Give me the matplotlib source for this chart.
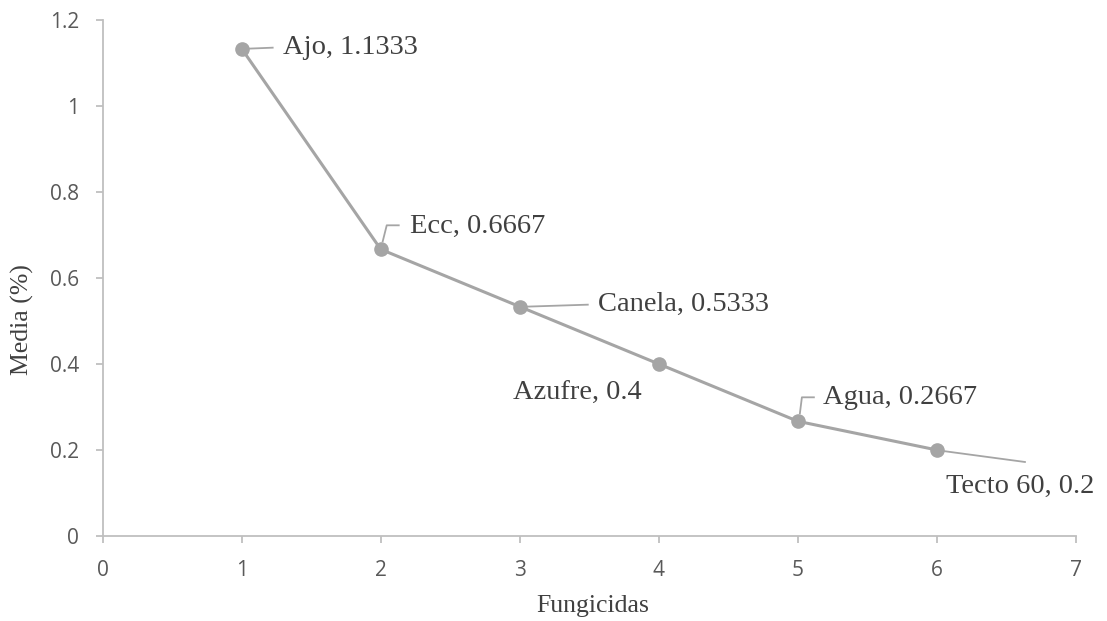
import matplotlib
matplotlib.use("Agg")
import matplotlib.pyplot as plt
from matplotlib.lines import Line2D
from matplotlib.transforms import IdentityTransform

# Data
fungicidas = [1, 2, 3, 4, 5, 6]
nombres = ["Ajo", "Ecc", "Canela", "Azufre", "Agua", "Tecto 60"]
medias = [1.1333, 0.6667, 0.5333, 0.4, 0.2667, 0.2]
x_ticks = [0, 1, 2, 3, 4, 5, 6, 7]
y_ticks = [0, 0.2, 0.4, 0.6, 0.8, 1.0, 1.2]
y_tick_labels = ["0", "0.2", "0.4", "0.6", "0.8", "1", "1.2"]

# Label placement in pixels relative to each point: text offset and leader path
label_offsets = [(41, 1), (29, 23), (78, 2), (-146, -29), (25, 24), (9, -36)]
leader_paths = [
    [(6, 0), (31, 1)],
    [(2, 8), (6, 24), (18, 24)],
    [(6, 0), (68, 2)],
    None,
    [(2, 8), (4, 24), (16, 24)],
    [(6, -1), (88, -12)],
]

SERIF = ["Liberation Serif", "DejaVu Serif"]
LINE_C = "#A5A5A5"
TEXT_C = "#404040"
AXIS_C = "#BFBFBF"

fig = plt.figure(figsize=(11.07, 6.21), dpi=100)
ax = fig.add_axes([0.0927, 0.1369, 0.8793, 0.8309])

ax.plot(fungicidas, medias, color=LINE_C, lw=2.2, marker="o", ms=9.5,
        markerfacecolor=LINE_C, markeredgecolor=LINE_C, zorder=3,
        solid_capstyle="round")

ax.set_xlim(0, 7)
ax.set_ylim(0, 1.2)
ax.set_xticks(x_ticks)
ax.set_yticks(y_ticks)
ax.set_yticklabels(y_tick_labels)

for side in ("top", "right"):
    ax.spines[side].set_visible(False)
for side in ("left", "bottom"):
    ax.spines[side].set_color(AXIS_C)
    ax.spines[side].set_linewidth(1.3)
ax.tick_params(axis="both", direction="out", length=5, width=1.3, color=AXIS_C,
               labelcolor="#595959", labelsize=15)
ax.tick_params(axis="x", pad=12)
ax.tick_params(axis="y", pad=12)
for lab in ax.get_xticklabels() + ax.get_yticklabels():
    lab.set_family(["Open Sans", "DejaVu Sans"])

ax.set_xlabel("Fungicidas", family=SERIF, fontsize=18.5, color=TEXT_C, va="center")
ax.xaxis.set_label_coords(0.503, -0.136)
ax.set_ylabel("Media (%)", family=SERIF, fontsize=18.5, color=TEXT_C, va="center")
ax.yaxis.set_label_coords(-0.082, 0.419)

# Data labels with leader lines
fig.canvas.draw()
for xv, yv, name, (dx, dy), path in zip(fungicidas, medias, nombres,
                                        label_offsets, leader_paths):
    label = f"{name}, {yv:g}"
    ax.annotate(label, (xv, yv), xytext=(dx, dy), textcoords="offset pixels",
                ha="left", va="center", family=SERIF, fontsize=20.5,
                color=TEXT_C, zorder=4)
    if path:
        px, py = ax.transData.transform((xv, yv))
        xs = [px + p[0] for p in path]
        ys = [py + p[1] for p in path]
        fig.add_artist(Line2D(xs, ys, transform=IdentityTransform(),
                              color=LINE_C, lw=1.3, zorder=2))

fig.savefig("out.png", dpi=100)
